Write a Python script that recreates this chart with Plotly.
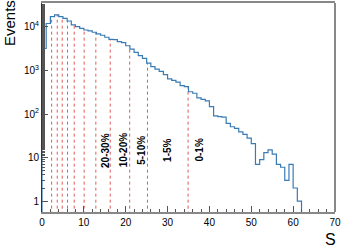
import math
import plotly.graph_objects as go

# Histogram: bin contents for S bins [0,1), [1,2), ... [61,62)
bin_edges_start = 0
bin_width = 1
counts = [3200, 12000, 17300, 18900, 17300, 15800, 13700, 11100, 10200, 9300,
          8500, 8100, 7550, 6900, 6450, 5800, 5200, 5100, 4600, 4350,
          3700, 3100, 2600, 2200, 1900, 1480, 1230, 1070, 950, 800,
          640, 590, 540, 450, 425, 325, 300, 235, 218, 200,
          148, 91, 87, 85, 61, 51, 47, 39, 34, 28,
          21, 7, 9, 13, 15, 12, 7, 6, 3, 7,
          2, 1]

# Centrality cut positions (S values)
cuts = [2.3, 3.64, 4.83, 6.1, 7.7, 10.07, 12.86, 16.3, 20.95, 25.2, 34.9]

# Class labels and positions
class_labels = ["20-30%", "10-20%", "5-10%", "1-5%", "0-1%"]
class_x = [15.0, 19.4, 23.8, 29.8, 37.6]
class_y = 14.8

xticks = [0, 10, 20, 30, 40, 50, 60, 70]
yticks = [1, 10, 100, 1000, 10000]
yticktext = ["1", "10", "10<sup>2</sup>", "10<sup>3</sup>", "10<sup>4</sup>"]

FONT = "Liberation Sans, Arial, sans-serif"
floor = 0.1

# step outline
xs, ys = [bin_edges_start], [floor]
for i, c in enumerate(counts):
    x0 = bin_edges_start + i * bin_width
    xs += [x0, x0 + bin_width]
    ys += [c, c]
xend = bin_edges_start + len(counts) * bin_width
xs += [xend, 70]
ys += [floor, floor]

fig = go.Figure()

# dashed cut lines from axis to histogram
lx, ly = [], []
for c in cuts:
    idx = int((c - bin_edges_start) // bin_width)
    lx += [c, c, None]
    ly += [floor, counts[idx], None]
fig.add_trace(go.Scatter(x=lx, y=ly, mode="lines",
                         line=dict(color="#e05a5a", width=1, dash="dot"),
                         hoverinfo="skip", showlegend=False))

fig.add_trace(go.Scatter(x=xs, y=ys, mode="lines",
                         line=dict(color="#3a7bb5", width=1.2),
                         showlegend=False))

for t, x in zip(class_labels, class_x):
    fig.add_annotation(x=x, y=math.log10(class_y), xref="x", yref="y",
                       text="<b>%s</b>" % t, textangle=-90, showarrow=False,
                       font=dict(family=FONT, size=10, color="black"),
                       xanchor="center", yanchor="middle")

fig.add_annotation(x=(9 - 42) / 293, y=(212 - 23) / 209, xref="paper", yref="paper",
                   text="Events", textangle=-90, showarrow=False,
                   font=dict(family=FONT, size=15, color="black"),
                   xanchor="center", yanchor="middle")
fig.add_annotation(x=(330 - 42) / 293, y=(212 - 239) / 209, xref="paper", yref="paper",
                   text="S", showarrow=False,
                   font=dict(family=FONT, size=16, color="black"),
                   xanchor="center", yanchor="middle")

# right frame line
fig.add_shape(type="line", xref="paper", yref="paper", x0=1, x1=1, y0=0, y1=1,
              line=dict(color="#888888", width=2))

fig.update_xaxes(range=[0, 70], tickvals=xticks, ticks="inside", ticklen=6,
                 tickcolor="#555", showgrid=False, zeroline=False, automargin=False,
                 showline=True, linecolor="#888888", linewidth=2, mirror=True,
                 minor=dict(ticks="inside", dtick=2, ticklen=3, tickcolor="#555", showgrid=False),
                 tickfont=dict(family=FONT, size=10, color="black"))
fig.update_yaxes(type="log", range=[-0.25, 4.55], tickvals=yticks, ticktext=yticktext,
                 ticks="inside", ticklen=6, tickcolor="#555", showgrid=False, zeroline=False,
                 automargin=False,
                 showline=True, linecolor="#333333", linewidth=1,
                 minor=dict(ticks="inside", ticklen=3, tickcolor="#555", showgrid=False),
                 tickfont=dict(family=FONT, size=10, color="black"))

fig.update_layout(width=343, height=247, margin=dict(l=42, r=8, t=3, b=35),
                  plot_bgcolor="white", paper_bgcolor="white", showlegend=False)

fig.write_html("out.html", config={"displayModeBar": False},
               post_script="document.body.style.margin='0';document.body.style.padding='0';")
